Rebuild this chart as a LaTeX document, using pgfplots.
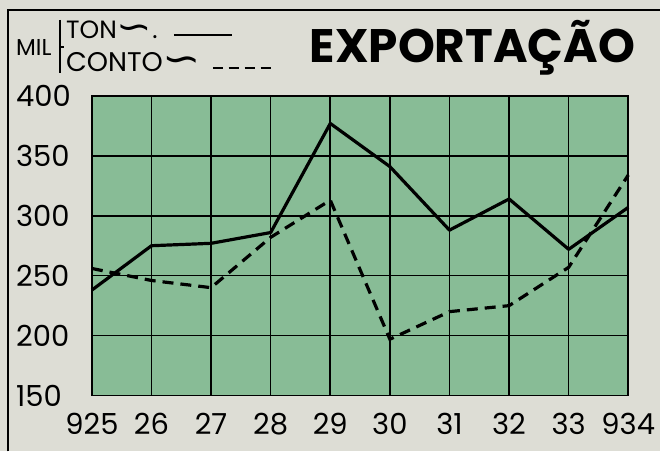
\documentclass[border=0pt]{standalone}
\usepackage{pgfplots}
\pgfplotsset{compat=1.18}
\usepackage{fontspec}
\setmainfont{Poppins}
\newfontfamily\dejavu{DejaVu Sans}
\definecolor{paper}{RGB}{221,221,213}
\definecolor{plotgreen}{RGB}{136,188,150}
\begin{document}
\begin{tikzpicture}[x=1pt,y=1pt]
\fill[paper] (0,0) rectangle (661,452);
\draw[line width=1.5pt] (8,0) -- (8,442) -- (661,442);
\begin{axis}[at={(92pt,56pt)}, anchor=south west, scale only axis,
  width=537pt, height=300pt,
  xmin=1925, xmax=1934, ymin=150, ymax=400,
  axis background/.style={fill=plotgreen},
  xtick={1925,...,1934},
  xticklabels={925,26,27,28,29,30,31,32,33,934},
  ytick={150,200,...,400},
  grid=major, major grid style={black, line width=1.6pt},
  axis line style={line width=1.8pt},
  tick style={draw=none},
  /pgf/number format/assume math mode=true,
  ticklabel style={font=\fontsize{29}{29}\selectfont, inner sep=0pt},
  yticklabel style={anchor=west, xshift=-76pt},
  xticklabel style={anchor=north, yshift=-17pt},
  clip=false]
\addplot[black, line width=3.2pt, line join=round] coordinates {
 (1925,238) (1926,275) (1927,277) (1928,286) (1929,377)
 (1930,341) (1931,288) (1932,314) (1933,272) (1934,307)};
\addplot[black, line width=3.2pt, dash pattern=on 11pt off 7pt] coordinates {
 (1925,256) (1926,246) (1927,240) (1928,282) (1929,313)
 (1930,197) (1931,220) (1932,225) (1933,257) (1934,334)};
\end{axis}
\node[anchor=west, inner sep=0pt, font=\fontsize{23}{23}\selectfont] at (16,404) {MIL};
\draw[line width=1.8pt] (60,432) -- (60,379);
\draw[line width=1.8pt] (60,405) -- (64,405);
\node[anchor=west, inner sep=0pt, font=\fontsize{25}{25}\selectfont] at (66,422) {TON\raisebox{-1pt}{\scalebox{1.7}[1.5]{\dejavu ∽}}.};
\draw[line width=1.6pt] (174,417) -- (232,417);
\node[anchor=west, inner sep=0pt, font=\fontsize{27}{27}\selectfont] at (66,389) {CONTO\raisebox{-1pt}{\scalebox{1.7}[1.5]{\dejavu ∽}}};
\draw[line width=2pt, dash pattern=on 10pt off 6pt] (213,384) -- (272,384);
\node[inner sep=0pt, font=\fontsize{47}{47}\selectfont\bfseries] at (473,404) {EXPORTAÇÃO};
\end{tikzpicture}
\end{document}
